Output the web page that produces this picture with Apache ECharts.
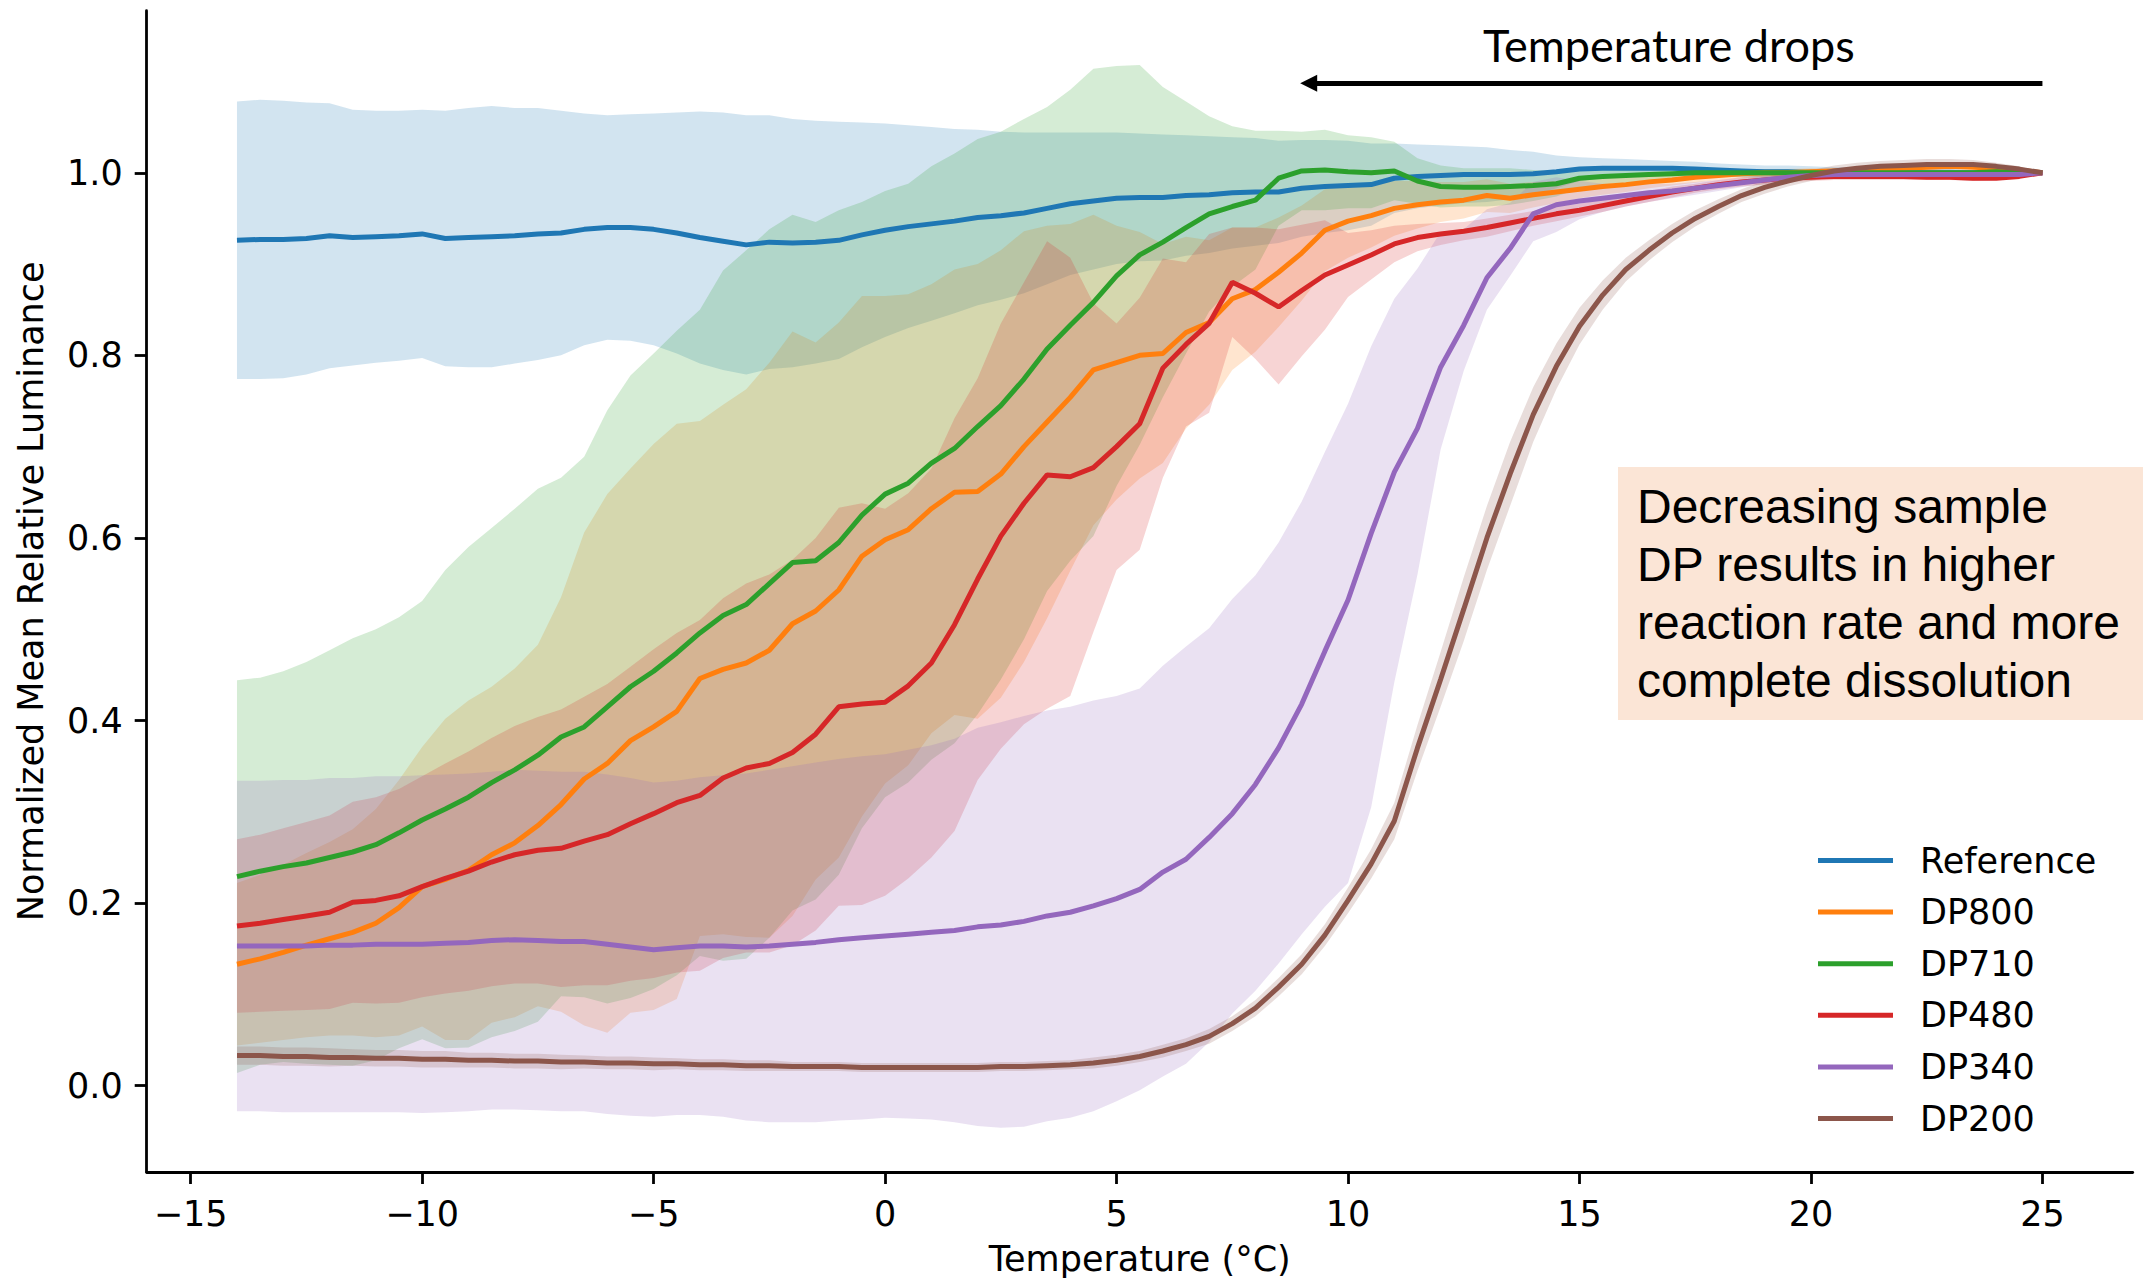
<!DOCTYPE html>
<html>
<head>
<meta charset="utf-8">
<script src="https://cdn.jsdelivr.net/npm/echarts@6/dist/echarts.min.js"></script>
<style>
  html, body { margin: 0; padding: 0; background: #ffffff; }
  #chart { width: 2143px; height: 1282px; }
</style>
</head>
<body>
<div id="chart"></div>
<script>
// Temperature grid (°C) shared by every curve
const temps = [
  -14, -13.5, -13, -12.5, -12, -11.5, -11, -10.5, -10, -9.5,
  -9, -8.5, -8, -7.5, -7, -6.5, -6, -5.5, -5, -4.5,
  -4, -3.5, -3, -2.5, -2, -1.5, -1, -0.5, 0, 0.5,
  1, 1.5, 2, 2.5, 3, 3.5, 4, 4.5, 5, 5.5,
  6, 6.5, 7, 7.5, 8, 8.5, 9, 9.5, 10, 10.5,
  11, 11.5, 12, 12.5, 13, 13.5, 14, 14.5, 15, 15.5,
  16, 16.5, 17, 17.5, 18, 18.5, 19, 19.5, 20, 20.5,
  21, 21.5, 22, 22.5, 23, 23.5, 24, 24.5, 25
];

// Mean normalized luminance per sample
const referenceMean = [
  0.926, 0.927, 0.927, 0.928, 0.931, 0.929, 0.930, 0.931, 0.933, 0.928,
  0.929, 0.930, 0.931, 0.933, 0.934, 0.938, 0.940, 0.940, 0.938, 0.934,
  0.929, 0.925, 0.921, 0.924, 0.923, 0.924, 0.926, 0.932, 0.937, 0.941,
  0.944, 0.947, 0.951, 0.953, 0.956, 0.961, 0.966, 0.969, 0.972, 0.973,
  0.973, 0.975, 0.976, 0.978, 0.979, 0.979, 0.983, 0.985, 0.986, 0.987,
  0.994, 0.996, 0.997, 0.998, 0.998, 0.998, 0.999, 1.001, 1.004, 1.005,
  1.005, 1.005, 1.005, 1.004, 1.003, 1.002, 1.001, 1.001, 1.000, 1.000,
  1.000, 1.000, 1.000, 1.000, 1.000, 1.000, 1.000, 1.000, 1.000
];
const dp800Mean = [
  0.133, 0.139, 0.146, 0.154, 0.161, 0.168, 0.178, 0.195, 0.218, 0.226,
  0.236, 0.253, 0.266, 0.285, 0.308, 0.336, 0.353, 0.378, 0.393, 0.410,
  0.446, 0.456, 0.463, 0.477, 0.506, 0.520, 0.543, 0.580, 0.598, 0.609,
  0.632, 0.650, 0.651, 0.670, 0.700, 0.727, 0.754, 0.784, 0.792, 0.800,
  0.802, 0.825, 0.836, 0.862, 0.872, 0.891, 0.912, 0.937, 0.947, 0.953,
  0.961, 0.965, 0.968, 0.970, 0.975, 0.972, 0.976, 0.979, 0.982, 0.985,
  0.987, 0.990, 0.992, 0.995, 0.997, 0.999, 1.000, 1.000, 1.001, 1.002,
  1.003, 1.004, 1.005, 1.006, 1.007, 1.006, 1.005, 1.003, 1.000
];
const dp710Mean = [
  0.229, 0.235, 0.240, 0.244, 0.250, 0.256, 0.264, 0.277, 0.291, 0.303,
  0.316, 0.332, 0.346, 0.362, 0.382, 0.393, 0.415, 0.437, 0.454, 0.474,
  0.496, 0.515, 0.527, 0.550, 0.573, 0.575, 0.595, 0.625, 0.648, 0.660,
  0.682, 0.698, 0.722, 0.745, 0.774, 0.807, 0.833, 0.858, 0.887, 0.910,
  0.924, 0.940, 0.955, 0.963, 0.970, 0.994, 1.002, 1.003, 1.001, 1.000,
  1.002, 0.991, 0.985, 0.984, 0.984, 0.985, 0.986, 0.988, 0.994, 0.996,
  0.997, 0.998, 0.999, 1.000, 1.000, 1.000, 1.000, 1.000, 1.000, 1.000,
  1.000, 1.000, 1.000, 1.000, 1.000, 1.000, 1.001, 1.000, 1.000
];
const dp480Mean = [
  0.175, 0.178, 0.182, 0.186, 0.190, 0.201, 0.203, 0.208, 0.218, 0.227,
  0.235, 0.245, 0.253, 0.258, 0.260, 0.268, 0.275, 0.287, 0.298, 0.310,
  0.318, 0.337, 0.348, 0.353, 0.365, 0.385, 0.415, 0.418, 0.420, 0.438,
  0.463, 0.505, 0.555, 0.602, 0.638, 0.669, 0.667, 0.677, 0.700, 0.725,
  0.786, 0.812, 0.835, 0.880, 0.868, 0.853, 0.871, 0.888, 0.899, 0.910,
  0.922, 0.929, 0.933, 0.936, 0.940, 0.945, 0.950, 0.955, 0.959, 0.964,
  0.969, 0.974, 0.979, 0.983, 0.987, 0.990, 0.992, 0.994, 0.995, 0.996,
  0.996, 0.996, 0.996, 0.995, 0.995, 0.994, 0.994, 0.996, 1.000
];
const dp340Mean = [
  0.153, 0.153, 0.153, 0.153, 0.154, 0.154, 0.155, 0.155, 0.155, 0.156,
  0.157, 0.159, 0.160, 0.159, 0.158, 0.158, 0.155, 0.152, 0.149, 0.151,
  0.153, 0.153, 0.152, 0.153, 0.155, 0.157, 0.160, 0.162, 0.164, 0.166,
  0.168, 0.170, 0.174, 0.176, 0.180, 0.186, 0.190, 0.197, 0.205, 0.215,
  0.234, 0.248, 0.272, 0.298, 0.330, 0.370, 0.418, 0.476, 0.532, 0.605,
  0.672, 0.720, 0.787, 0.833, 0.885, 0.917, 0.955, 0.965, 0.969, 0.972,
  0.975, 0.978, 0.980, 0.983, 0.986, 0.989, 0.992, 0.995, 0.997, 0.998,
  0.998, 0.998, 0.998, 0.998, 0.998, 0.998, 0.998, 0.998, 1.000
];
const dp200Mean = [
  0.033, 0.033, 0.032, 0.032, 0.031, 0.031, 0.030, 0.030, 0.029, 0.029,
  0.028, 0.028, 0.027, 0.027, 0.026, 0.026, 0.025, 0.025, 0.024, 0.024,
  0.023, 0.023, 0.022, 0.022, 0.021, 0.021, 0.021, 0.020, 0.020, 0.020,
  0.020, 0.020, 0.020, 0.021, 0.021, 0.022, 0.023, 0.025, 0.028, 0.032,
  0.038, 0.045, 0.054, 0.068, 0.085, 0.108, 0.133, 0.165, 0.203, 0.243,
  0.290, 0.370, 0.445, 0.522, 0.600, 0.670, 0.735, 0.788, 0.832, 0.866,
  0.894, 0.915, 0.934, 0.950, 0.963, 0.975, 0.984, 0.991, 0.997, 1.002,
  1.005, 1.007, 1.008, 1.009, 1.009, 1.009, 1.007, 1.004, 1.000
];

// Spread of the luminance around the mean (shaded band)
const referenceSd = [
  0.152, 0.153, 0.152, 0.149, 0.145, 0.140, 0.138, 0.137, 0.136, 0.140,
  0.142, 0.143, 0.140, 0.138, 0.134, 0.127, 0.123, 0.124, 0.127, 0.132,
  0.138, 0.141, 0.142, 0.139, 0.136, 0.133, 0.130, 0.123, 0.117, 0.111,
  0.106, 0.101, 0.096, 0.092, 0.088, 0.083, 0.078, 0.075, 0.072, 0.070,
  0.069, 0.066, 0.064, 0.061, 0.059, 0.056, 0.053, 0.051, 0.049, 0.045,
  0.038, 0.035, 0.033, 0.031, 0.030, 0.027, 0.024, 0.018, 0.013, 0.011,
  0.010, 0.009, 0.008, 0.008, 0.007, 0.007, 0.007, 0.007, 0.007, 0.006,
  0.006, 0.005, 0.005, 0.004, 0.004, 0.003, 0.002, 0.001, 0.000
];
const dp800Sd = [
  0.089, 0.092, 0.096, 0.101, 0.106, 0.113, 0.125, 0.140, 0.153, 0.176,
  0.186, 0.184, 0.191, 0.198, 0.227, 0.270, 0.295, 0.298, 0.310, 0.315,
  0.282, 0.290, 0.300, 0.315, 0.320, 0.294, 0.293, 0.285, 0.267, 0.258,
  0.246, 0.244, 0.249, 0.245, 0.236, 0.215, 0.190, 0.170, 0.150, 0.135,
  0.120, 0.105, 0.090, 0.078, 0.068, 0.060, 0.052, 0.045, 0.040, 0.035,
  0.030, 0.026, 0.022, 0.020, 0.018, 0.016, 0.014, 0.012, 0.010, 0.009,
  0.008, 0.007, 0.006, 0.006, 0.005, 0.005, 0.004, 0.004, 0.004, 0.003,
  0.003, 0.003, 0.003, 0.002, 0.002, 0.002, 0.001, 0.001, 0.000
];
const dp710Sd = [
  0.215, 0.212, 0.214, 0.220, 0.227, 0.234, 0.236, 0.236, 0.240, 0.262,
  0.274, 0.279, 0.286, 0.292, 0.284, 0.296, 0.325, 0.341, 0.348, 0.353,
  0.354, 0.378, 0.388, 0.388, 0.381, 0.371, 0.364, 0.343, 0.332, 0.328,
  0.325, 0.323, 0.315, 0.300, 0.285, 0.265, 0.258, 0.256, 0.230, 0.208,
  0.170, 0.138, 0.107, 0.088, 0.076, 0.052, 0.043, 0.044, 0.040, 0.039,
  0.032, 0.025, 0.023, 0.021, 0.021, 0.020, 0.017, 0.014, 0.011, 0.009,
  0.008, 0.007, 0.006, 0.005, 0.005, 0.004, 0.004, 0.004, 0.004, 0.004,
  0.003, 0.003, 0.003, 0.002, 0.002, 0.002, 0.001, 0.001, 0.000
];
const dp480Sd = [
  0.095, 0.097, 0.100, 0.103, 0.106, 0.110, 0.113, 0.117, 0.121, 0.126,
  0.131, 0.136, 0.141, 0.146, 0.152, 0.158, 0.165, 0.172, 0.180, 0.186,
  0.192, 0.197, 0.202, 0.207, 0.211, 0.215, 0.218, 0.220, 0.212, 0.211,
  0.213, 0.226, 0.220, 0.233, 0.242, 0.256, 0.240, 0.180, 0.135, 0.138,
  0.120, 0.090, 0.098, 0.060, 0.072, 0.085, 0.072, 0.060, 0.035, 0.027,
  0.020, 0.015, 0.012, 0.010, 0.010, 0.009, 0.008, 0.008, 0.007, 0.007,
  0.006, 0.006, 0.006, 0.005, 0.005, 0.005, 0.005, 0.004, 0.004, 0.004,
  0.004, 0.004, 0.004, 0.003, 0.003, 0.003, 0.002, 0.001, 0.000
];
// DP340 spread is lopsided on the steep part of the curve
const dp340SdBelow = [
  0.181, 0.181, 0.182, 0.182, 0.183, 0.183, 0.184, 0.184, 0.185, 0.185,
  0.185, 0.185, 0.186, 0.186, 0.186, 0.186, 0.186, 0.185, 0.183, 0.183,
  0.185, 0.187, 0.190, 0.193, 0.195, 0.197, 0.198, 0.199, 0.199, 0.202,
  0.205, 0.210, 0.218, 0.222, 0.225, 0.225, 0.225, 0.225, 0.222, 0.220,
  0.224, 0.224, 0.224, 0.219, 0.226, 0.236, 0.252, 0.280, 0.310, 0.300,
  0.230, 0.160, 0.090, 0.050, 0.035, 0.030, 0.030, 0.030, 0.020, 0.015,
  0.012, 0.010, 0.008, 0.007, 0.006, 0.005, 0.004, 0.004, 0.003, 0.003,
  0.003, 0.003, 0.003, 0.002, 0.002, 0.002, 0.001, 0.001, 0.000
];
const dp340SdAbove = [
  0.181, 0.181, 0.182, 0.182, 0.183, 0.183, 0.184, 0.184, 0.185, 0.185,
  0.185, 0.185, 0.186, 0.186, 0.186, 0.186, 0.186, 0.185, 0.183, 0.183,
  0.185, 0.187, 0.190, 0.193, 0.195, 0.197, 0.198, 0.199, 0.199, 0.202,
  0.205, 0.210, 0.218, 0.222, 0.225, 0.225, 0.225, 0.225, 0.222, 0.220,
  0.226, 0.233, 0.229, 0.235, 0.229, 0.225, 0.222, 0.218, 0.215, 0.205,
  0.190, 0.175, 0.148, 0.105, 0.075, 0.050, 0.035, 0.030, 0.022, 0.016,
  0.012, 0.010, 0.008, 0.007, 0.006, 0.005, 0.004, 0.004, 0.003, 0.003,
  0.003, 0.003, 0.003, 0.002, 0.002, 0.002, 0.001, 0.001, 0.000
];
const dp200Sd = [
  0.010, 0.010, 0.010, 0.010, 0.010, 0.009, 0.009, 0.009, 0.009, 0.009,
  0.008, 0.008, 0.008, 0.008, 0.008, 0.007, 0.007, 0.007, 0.007, 0.006,
  0.006, 0.006, 0.006, 0.006, 0.005, 0.005, 0.005, 0.005, 0.005, 0.005,
  0.005, 0.005, 0.005, 0.005, 0.005, 0.005, 0.005, 0.006, 0.006, 0.006,
  0.007, 0.007, 0.008, 0.008, 0.009, 0.010, 0.011, 0.012, 0.014, 0.016,
  0.020, 0.025, 0.030, 0.035, 0.035, 0.035, 0.030, 0.025, 0.020, 0.016,
  0.013, 0.011, 0.010, 0.009, 0.008, 0.007, 0.007, 0.006, 0.006, 0.006,
  0.006, 0.006, 0.006, 0.006, 0.006, 0.005, 0.004, 0.003, 0.000
];

const seriesNames = ['Reference', 'DP800', 'DP710', 'DP480', 'DP340', 'DP200'];
const seriesColors = ['#1f77b4', '#ff7f0e', '#2ca02c', '#d62728', '#9467bd', '#8c564b'];
const meanSets = [referenceMean, dp800Mean, dp710Mean, dp480Mean, dp340Mean, dp200Mean];
const spreadBelow = [referenceSd, dp800Sd, dp710Sd, dp480Sd, dp340SdBelow, dp200Sd];
const spreadAbove = [referenceSd, dp800Sd, dp710Sd, dp480Sd, dp340SdAbove, dp200Sd];

// Axis ticks
const xTicks = [-15, -10, -5, 0, 5, 10, 15, 20, 25];
const yTicks = [0, 0.2, 0.4, 0.6, 0.8, 1.0];

// Cooling-direction arrow and its caption (data coordinates)
const arrowFrom = [25, 1.098];
const arrowTo = [9.15, 1.098];
const arrowCaption = 'Temperature drops';
const arrowCaptionAt = [16.93, 1.14];
const noteLines = [
  'Decreasing sample',
  'DP results in higher',
  'reaction rate and more',
  'complete dissolution'
];

const LABEL_FONT = 'DejaVu Sans';

function bandSeries(k) {
  const mean = meanSets[k];
  const below = spreadBelow[k];
  const above = spreadAbove[k];
  return {
    type: 'custom',
    name: seriesNames[k] + ' spread',
    coordinateSystem: 'cartesian2d',
    silent: true,
    z: 1,
    data: temps.map((t, i) => [t, mean[i] - below[i], mean[i] + above[i]]),
    encode: { x: 0, y: [1, 2] },
    renderItem: function (params, api) {
      if (params.dataIndexInside !== 0) return null;
      const upper = [];
      const lower = [];
      for (let i = 0; i < temps.length; i++) {
        upper.push(api.coord([temps[i], mean[i] + above[i]]));
        lower.push(api.coord([temps[i], mean[i] - below[i]]));
      }
      return {
        type: 'polygon',
        shape: { points: upper.concat(lower.reverse()) },
        style: { fill: seriesColors[k], opacity: 0.2 }
      };
    }
  };
}

function lineSeries(k) {
  const mean = meanSets[k];
  return {
    type: 'line',
    name: seriesNames[k],
    data: temps.map((t, i) => [t, mean[i]]),
    showSymbol: false,
    symbol: 'none',
    z: 2,
    lineStyle: { color: seriesColors[k], width: 5 },
    itemStyle: { color: seriesColors[k] }
  };
}

const series = [];
for (let k = 0; k < seriesNames.length; k++) series.push(bandSeries(k));
for (let k = 0; k < seriesNames.length; k++) series.push(lineSeries(k));
series.push({
  type: 'line',
  name: 'cooling arrow',
  data: [],
  silent: true,
  z: 3,
  markLine: {
    silent: true,
    symbol: ['none', 'triangle'],
    symbolSize: [17, 17],
    label: { show: false },
    lineStyle: { color: '#000', width: 5, type: 'solid' },
    data: [[{ coord: arrowFrom }, { coord: arrowTo }]]
  }
});

const axisText = { color: '#000', fontSize: 35, fontFamily: LABEL_FONT };

const chart = echarts.init(document.getElementById('chart'), null, { renderer: 'svg' });
chart.setOption({
  animation: false,
  backgroundColor: '#ffffff',
  textStyle: { fontFamily: LABEL_FONT },
  grid: { left: 146.7, right: 10.3, top: 10.7, bottom: 110, containLabel: false },
  xAxis: {
    type: 'value',
    min: -15.95,
    max: 26.95,
    name: 'Temperature (°C)',
    nameLocation: 'middle',
    nameGap: 69,
    nameTextStyle: axisText,
    axisLine: { show: true, onZero: false, lineStyle: { color: '#000', width: 2.8 } },
    axisTick: { show: true, length: 12, customValues: xTicks, lineStyle: { color: '#000', width: 2.8 } },
    axisLabel: Object.assign({
      customValues: xTicks,
      margin: 24,
      formatter: v => String(v).replace('-', '\u2212')
    }, axisText),
    splitLine: { show: false }
  },
  yAxis: {
    type: 'value',
    min: -0.0945,
    max: 1.1775,
    name: 'Normalized Mean Relative Luminance',
    nameLocation: 'middle',
    nameGap: 98,
    nameTextStyle: axisText,
    axisLine: { show: true, onZero: false, lineStyle: { color: '#000', width: 2.8 } },
    axisTick: { show: true, length: 12, customValues: yTicks, lineStyle: { color: '#000', width: 2.8 } },
    axisLabel: Object.assign({
      customValues: yTicks,
      margin: 24,
      formatter: v => v.toFixed(1)
    }, axisText),
    splitLine: { show: false }
  },
  legend: {
    data: seriesNames,
    orient: 'vertical',
    left: 1818,
    top: 843,
    padding: 0,
    icon: 'rect',
    itemWidth: 75,
    itemHeight: 5,
    itemGap: 16.6,
    selectedMode: false,
    textStyle: { color: '#000', fontSize: 35, fontFamily: LABEL_FONT, padding: [0, 0, 0, 22] }
  },
  series: series
});

// Annotations placed through the chart's own coordinate conversion
const capPos = chart.convertToPixel({ gridIndex: 0 }, arrowCaptionAt);
chart.setOption({
  graphic: [
    {
      type: 'text',
      x: capPos[0],
      y: capPos[1],
      z: 10,
      style: {
        text: arrowCaption,
        fontFamily: 'Lato',
        fontSize: 45,
        fill: '#000',
        align: 'center',
        verticalAlign: 'middle'
      }
    },
    {
      type: 'rect',
      z: 10,
      shape: { x: 1618, y: 467, width: 560, height: 253 },
      style: { fill: '#FBE5D6' }
    },
    {
      type: 'text',
      x: 1637,
      y: 477,
      z: 11,
      style: {
        text: noteLines.join('\n'),
        fontFamily: 'Liberation Sans',
        fontSize: 48,
        lineHeight: 58,
        fill: '#000',
        align: 'left',
        verticalAlign: 'top'
      }
    }
  ]
});
</script>
</body>
</html>
